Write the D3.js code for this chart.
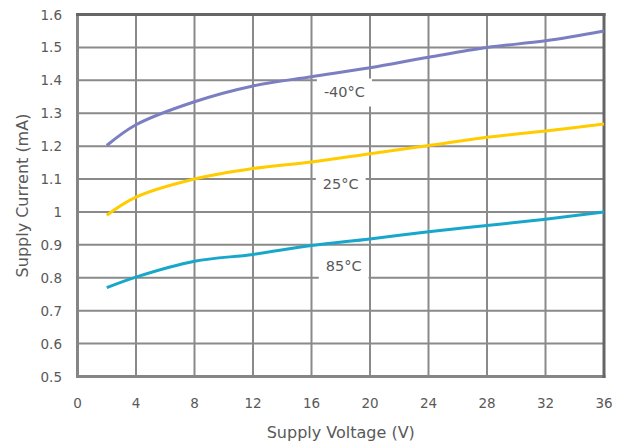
<!DOCTYPE html>
<html>
<head>
<meta charset="utf-8">
<script src="https://cdn.jsdelivr.net/npm/d3@7"></script>
<style>
html,body{margin:0;padding:0;background:#fff;}
svg{display:block;font-family:"DejaVu Sans",sans-serif;}
</style>
</head>
<body>
<svg id="chart" width="626" height="447"></svg>
<script>
const voltage = [2, 4, 8, 12, 16, 20, 24, 28, 32, 36];
const currentMinus40 = [1.202, 1.265, 1.335, 1.383, 1.411, 1.438, 1.47, 1.50, 1.52, 1.55];
const current25 = [0.99, 1.045, 1.10, 1.132, 1.152, 1.177, 1.202, 1.227, 1.246, 1.267];
const current85 = [0.770, 0.802, 0.85, 0.871, 0.898, 0.918, 0.94, 0.959, 0.978, 1.0];
const seriesNames = ["-40°C", "25°C", "85°C"];
const seriesColors = ["#7b7fc2", "#ffcc00", "#17a7ca"];
const labelX = [18.25, 18.0, 18.2];
const labelY = [1.363, 1.085, 0.836];
const xTicks = [0, 4, 8, 12, 16, 20, 24, 28, 32, 36];
const yTicks = [0.5, 0.6, 0.7, 0.8, 0.9, 1, 1.1, 1.2, 1.3, 1.4, 1.5, 1.6];
const xTitle = "Supply Voltage (V)";
const yTitle = "Supply Current (mA)";

const svg = d3.select("#chart");
const L = 77.5, R = 604, T = 14.5, B = 376.5;
const x = d3.scaleLinear().domain([0, 36]).range([L, R]);
const y = d3.scaleLinear().domain([0.5, 1.6]).range([B, T]);
const textColor = "#595959";

// grid
const gridColor = "#8a8a8a";
svg.append("g").selectAll("line").data(xTicks.slice(1, -1)).join("line")
  .attr("x1", d => x(d)).attr("x2", d => x(d)).attr("y1", T).attr("y2", B)
  .attr("stroke", gridColor).attr("stroke-width", 2);
svg.append("g").selectAll("line").data(yTicks.slice(1, -1)).join("line")
  .attr("x1", L).attr("x2", R).attr("y1", d => y(d)).attr("y2", d => y(d))
  .attr("stroke", gridColor).attr("stroke-width", 2);

// label boxes
const labelFont = 14.5;
const lbl = svg.append("g");
seriesNames.forEach((name, i) => {
  const t = lbl.append("text")
    .attr("x", x(labelX[i])).attr("y", y(labelY[i]))
    .attr("text-anchor", "middle").attr("dominant-baseline", "central")
    .attr("font-size", labelFont).attr("fill", textColor).text(name);
  const bb = t.node().getBBox();
  lbl.insert("rect", "text")
    .attr("x", bb.x - 7).attr("y", y(labelY[i]) - 14)
    .attr("width", bb.width + 14).attr("height", 28)
    .attr("fill", "#fff");
});

// frame
svg.append("line").attr("x1", L).attr("x2", L).attr("y1", T - 1.5).attr("y2", B + 1.5).attr("stroke", "#858585").attr("stroke-width", 3);
svg.append("line").attr("x1", L - 1.5).attr("x2", R + 1.5).attr("y1", B).attr("y2", B).attr("stroke", "#858585").attr("stroke-width", 3);
svg.append("line").attr("x1", L - 1.5).attr("x2", R + 1.5).attr("y1", T).attr("y2", T).attr("stroke", "#666666").attr("stroke-width", 3);
svg.append("line").attr("x1", R).attr("x2", R).attr("y1", T - 1.5).attr("y2", B + 1.5).attr("stroke", "#666666").attr("stroke-width", 3);

// lines
const series = [currentMinus40, current25, current85];
const line = d3.line().x(d => x(d[0])).y(d => y(d[1])).curve(d3.curveCatmullRom.alpha(0.5));
series.forEach((vals, i) => {
  svg.append("path")
    .datum(voltage.map((v, j) => [v, vals[j]]))
    .attr("d", line).attr("fill", "none")
    .attr("stroke", seriesColors[i]).attr("stroke-width", 3)
    .attr("stroke-linecap", "butt");
});

// tick labels
svg.append("g").selectAll("text").data(yTicks).join("text")
  .attr("x", 62).attr("y", d => y(d)).attr("text-anchor", "end")
  .attr("dominant-baseline", "central").attr("font-size", 13.5).attr("fill", textColor)
  .text(d => d3.format("")(d));
svg.append("g").selectAll("text").data(xTicks).join("text")
  .attr("x", d => x(d)).attr("y", 408).attr("text-anchor", "middle")
  .attr("font-size", 13.5).attr("fill", textColor).text(d => d);

// titles
svg.append("text").attr("x", (L + R) / 2).attr("y", 438).attr("text-anchor", "middle")
  .attr("font-size", 16).attr("fill", textColor).text(xTitle);
svg.append("text").attr("transform", `translate(27.5,${(T + B) / 2}) rotate(-90)`)
  .attr("text-anchor", "middle").attr("font-size", 16).attr("fill", textColor).text(yTitle);
</script>
</body>
</html>
